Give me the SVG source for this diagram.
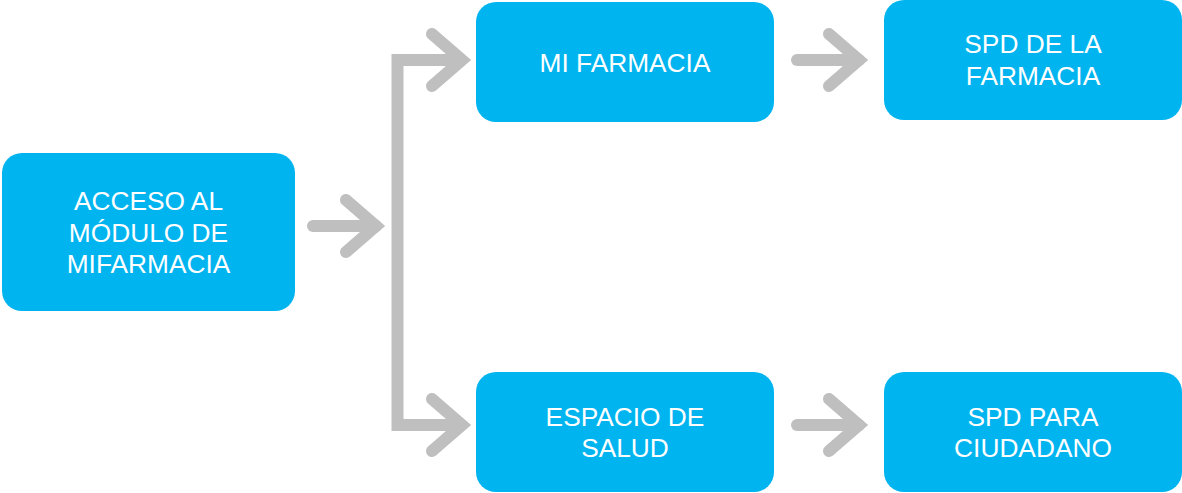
<svg xmlns="http://www.w3.org/2000/svg" width="1182" height="493" viewBox="0 0 1182 493">
<style>
.box{fill:#00B4F0;}
.lbl{fill:#FFFFFF;font-family:"Liberation Sans",Arial,sans-serif;font-size:26.3px;text-anchor:middle;}
.conn{fill:none;stroke:#BFBFBF;stroke-width:12;}
.head{fill:none;stroke:#BFBFBF;stroke-width:12;stroke-linecap:round;stroke-linejoin:miter;}
</style>
<rect width="1182" height="493" fill="#FFFFFF"/>
<g id="connectors">
  <path class="conn" d="M313,226 H376" stroke-linecap="round"/>
  <path class="head" d="M346,200 L376,226 L346,252"/>
  <path class="conn" d="M397.5,431 V60 H462" stroke-linecap="butt"/>
  <path class="head" d="M432,34 L462,60 L432,86"/>
  <path class="conn" d="M397.5,425 H462"/>
  <path class="head" d="M432,399 L462,425 L432,451"/>
  <path class="conn" d="M797,60 H859" stroke-linecap="round"/>
  <path class="head" d="M829,34 L859,60 L829,86"/>
  <path class="conn" d="M797,425 H859" stroke-linecap="round"/>
  <path class="head" d="M829,399 L859,425 L829,451"/>
</g>
<g id="node-acceso">
  <rect class="box" x="2" y="153" width="293" height="158" rx="20"/>
  <text class="lbl" x="148.5" y="210">ACCESO AL</text>
  <text class="lbl" x="148.5" y="241.7">MÓDULO DE</text>
  <text class="lbl" x="148.5" y="273.3">MIFARMACIA</text>
</g>
<g id="node-mifarmacia">
  <rect class="box" x="476" y="2" width="298" height="120" rx="20"/>
  <text class="lbl" x="625" y="71.5">MI FARMACIA</text>
</g>
<g id="node-spd-farmacia">
  <rect class="box" x="884" y="0" width="298" height="120" rx="20"/>
  <text class="lbl" x="1033" y="53.3">SPD DE LA</text>
  <text class="lbl" x="1033" y="85">FARMACIA</text>
</g>
<g id="node-espacio">
  <rect class="box" x="476" y="372" width="298" height="120" rx="20"/>
  <text class="lbl" x="625" y="425.7">ESPACIO DE</text>
  <text class="lbl" x="625" y="457.3">SALUD</text>
</g>
<g id="node-spd-ciudadano">
  <rect class="box" x="884" y="372" width="298" height="120" rx="20"/>
  <text class="lbl" x="1033" y="425.7">SPD PARA</text>
  <text class="lbl" x="1033" y="457.3">CIUDADANO</text>
</g>
</svg>
